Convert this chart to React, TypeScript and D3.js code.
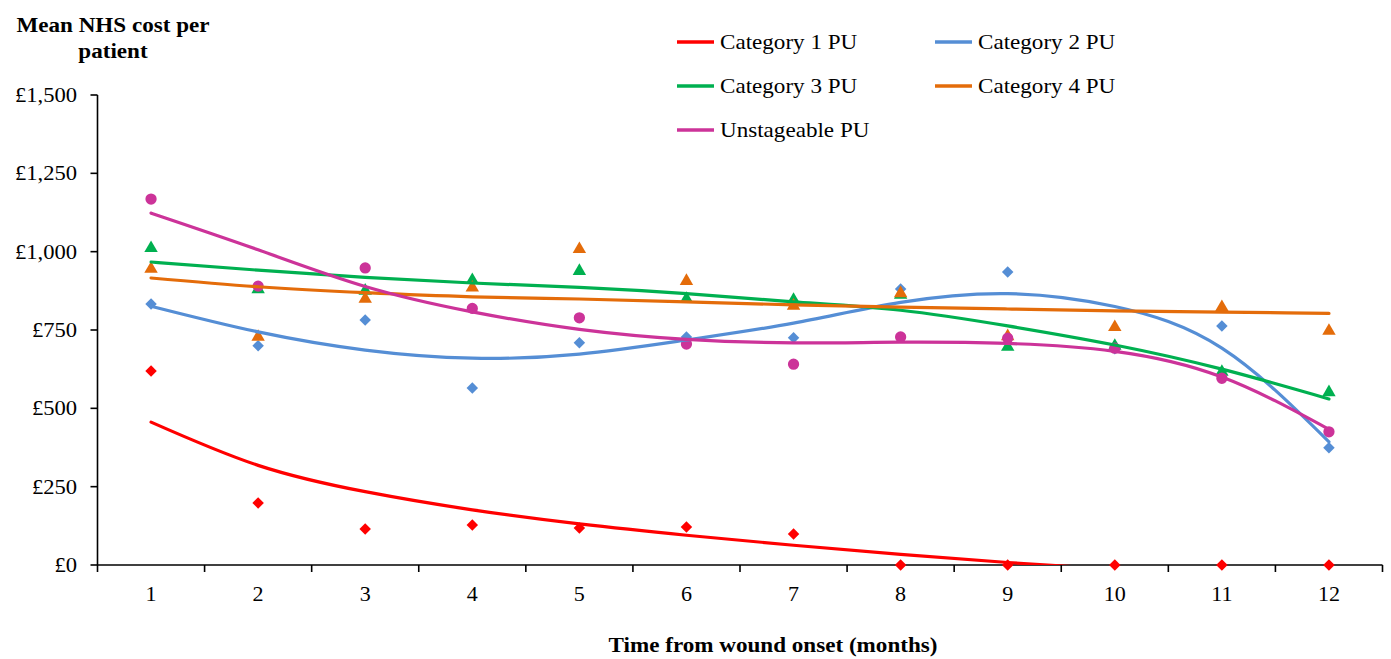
import React from "react";
import * as d3 from "d3";

const WIDTH = 1391;
const HEIGHT = 659;
const PLOT = { LEFT: 97.5, RIGHT: 1382.5, TOP: 95, BOTTOM: 565 };

const months = [1, 2, 3, 4, 5, 6, 7, 8, 9, 10, 11, 12];
const yTicks = [0, 250, 500, 750, 1000, 1250, 1500];

// observed mean cost per patient (markers)
const cat1Points = [619, 198, 115, 128, 118, 121, 99, 0, 0, 0, 0, 0];
const cat2Points = [833, 700, 782, 565, 709, 728, 725, 881, 935, 690, 763, 374];
const cat3Points = [1011, 880, 875, 909, 938, 849, 846, 862, 696, 699, 616, 551];
const cat4Points = [945, 728, 849, 885, 1008, 906, 827, 867, 730, 759, 823, 747];
const unstPoints = [1168, 890, 948, 819, 789, 705, 641, 728, 724, 692, 596, 425];

// trend lines at each month
const cat1Trend = [456, 318, 234, 176, 131, 95, 63, 34, 8, -14, -34, -52];
const cat2Trend = [826, 744, 686, 660, 673, 718, 772, 838, 866, 825, 692, 393];
const cat3Trend = [967, 941, 918, 900, 886, 866, 840, 813, 763, 702, 625, 530];
const cat4Trend = [916, 888, 869, 856, 849, 840, 830, 823, 817, 811, 807, 803];
const unstTrend = [1123, 1006, 889, 808, 752, 720, 709, 711, 707, 682, 600, 433];

const seriesNames = ["Category 1 PU", "Category 2 PU", "Category 3 PU", "Category 4 PU", "Unstageable PU"];
const seriesColors = ["#FF0000", "#558ED5", "#00B050", "#E46C0A", "#CC3399"];
const seriesShapes = ["diamond", "diamond", "triangle", "triangle", "circle"];

const SERIES = seriesNames.map((name, i) => ({
  name,
  color: seriesColors[i],
  shape: seriesShapes[i],
  points: [cat1Points, cat2Points, cat3Points, cat4Points, unstPoints][i],
  trend: [cat1Trend, cat2Trend, cat3Trend, cat4Trend, unstTrend][i],
}));

const FONT = "'Liberation Serif', 'Times New Roman', serif";
const SX = 1.05; // text in the source is a little wider than tall

const App: React.FC = () => {
  const xScale = d3.scaleLinear().domain([0.5, 12.5]).range([PLOT.LEFT, PLOT.RIGHT]);
  const yScale = d3.scaleLinear().domain([0, 1500]).range([PLOT.BOTTOM, PLOT.TOP]);
  const boundaries = d3.range(0.5, 13, 1);

  const line = d3
    .line<number>()
    .x((_, i) => xScale(months[i]))
    .y((d) => yScale(d))
    .curve(d3.curveNatural);

  const symbolPath = (shape: string) => {
    if (shape === "circle") return d3.symbol(d3.symbolCircle, 100)()!;
    if (shape === "triangle") return d3.symbol(d3.symbolTriangle, 78)()!;
    return d3.symbol(d3.symbolSquare, 66)()!;
  };

  const legendPos = [
    { x: 677, y: 42 },
    { x: 935, y: 42 },
    { x: 677, y: 86 },
    { x: 935, y: 86 },
    { x: 677, y: 130 },
  ];

  return (
    <svg
      width={WIDTH}
      height={HEIGHT}
      style={{ position: "absolute", left: 0, top: 0, display: "block", background: "#fff" }}
      fontFamily={FONT}
    >
      <defs>
        <clipPath id="plot-clip">
          <rect x={PLOT.LEFT} y={PLOT.TOP - 20} width={PLOT.RIGHT - PLOT.LEFT} height={PLOT.BOTTOM - PLOT.TOP + 20} />
        </clipPath>
      </defs>

      {/* y axis title */}
      <g fontWeight="bold" fontSize={22} textAnchor="middle" fill="#000">
        <text transform={`translate(113, 32) scale(${SX},1)`}>Mean NHS cost per</text>
        <text transform={`translate(113, 58) scale(${SX},1)`}>patient</text>
      </g>

      {/* y axis */}
      <line x1={PLOT.LEFT} x2={PLOT.LEFT} y1={yScale(1500)} y2={yScale(0)} stroke="#000" strokeWidth={1.6} />
      {yTicks.map((t) => (
        <g key={t} transform={`translate(0, ${yScale(t)})`}>
          <line x1={PLOT.LEFT - 7} x2={PLOT.LEFT} stroke="#000" strokeWidth={1.6} />
          <text
            transform={`translate(77, 7) scale(${SX},1)`}
            textAnchor="end"
            fontSize={21.5}
            fill="#000"
          >
            {"£" + d3.format(",")(t)}
          </text>
        </g>
      ))}

      {/* x axis */}
      <line x1={PLOT.LEFT} x2={PLOT.RIGHT} y1={PLOT.BOTTOM} y2={PLOT.BOTTOM} stroke="#000" strokeWidth={1.6} />
      {boundaries.map((b) => (
        <line key={b} x1={xScale(b)} x2={xScale(b)} y1={PLOT.BOTTOM} y2={PLOT.BOTTOM + 7} stroke="#000" strokeWidth={1.6} />
      ))}
      {months.map((m) => (
        <text
          key={m}
          transform={`translate(${xScale(m)}, 601) scale(${SX},1)`}
          textAnchor="middle"
          fontSize={21}
          fill="#000"
        >
          {m}
        </text>
      ))}
      <text
        transform={`translate(${(606 + 940) / 2}, 652) scale(${SX},1)`}
        textAnchor="middle"
        fontSize={22}
        fontWeight="bold"
        fill="#000"
      >
        Time from wound onset (months)
      </text>

      {/* markers */}
      {SERIES.map((s) => (
        <g key={s.name + "-pts"} fill={s.color}>
          {s.points.map((v, i) => (
            <path
              key={i}
              d={symbolPath(s.shape)}
              transform={`translate(${xScale(months[i])}, ${yScale(v)})${s.shape === "diamond" ? " rotate(45)" : ""}`}
            />
          ))}
        </g>
      ))}

      {/* trend lines */}
      <g clipPath="url(#plot-clip)">
        {SERIES.map((s) => (
          <path
            key={s.name + "-trend"}
            d={line(s.trend)!}
            fill="none"
            stroke={s.color}
            strokeWidth={3.2}
            strokeLinecap="round"
          />
        ))}
      </g>

      {/* legend */}
      {SERIES.map((s, i) => (
        <g key={s.name + "-legend"} transform={`translate(${legendPos[i].x}, ${legendPos[i].y})`}>
          <line x1={0} x2={37} y1={0} y2={0} stroke={s.color} strokeWidth={3.5} />
          <text transform={`translate(43, 7) scale(${SX},1)`} fontSize={22} fill="#000">
            {s.name}
          </text>
        </g>
      ))}
    </svg>
  );
};

export default App;
